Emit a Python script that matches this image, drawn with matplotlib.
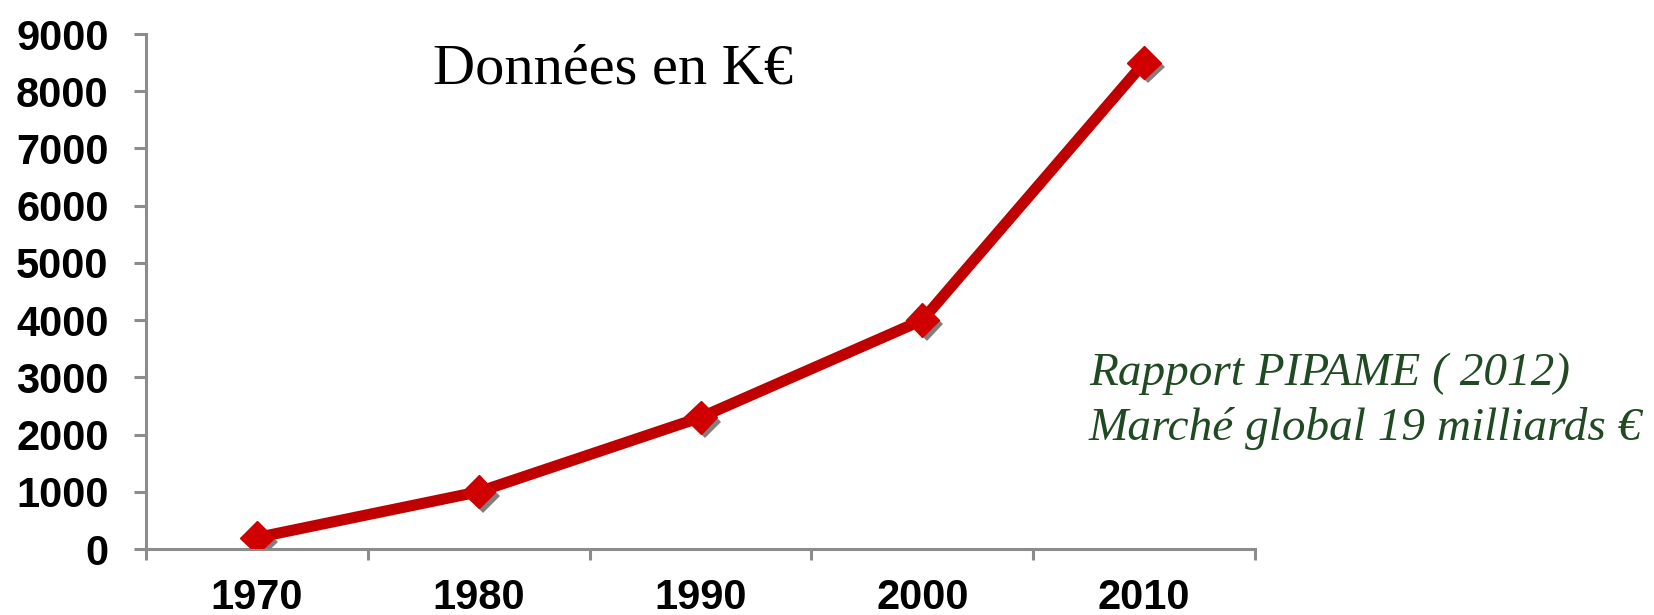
import numpy as np
import matplotlib
matplotlib.use('Agg')
import matplotlib.pyplot as plt
import matplotlib.patheffects as pe

years = ['1970', '1980', '1990', '2000', '2010']
values = [200, 1000, 2300, 4000, 8500]
yticks = [0, 1000, 2000, 3000, 4000, 5000, 6000, 7000, 8000, 9000]

fig = plt.figure(figsize=(16.54, 6.15), dpi=100)
ax = fig.add_axes([0.0883, 0.1073, 0.6705, 0.8374])

x = np.arange(len(years))
ax.plot(x, values, color='#c00000', linewidth=8, solid_capstyle='round', zorder=2)
ax.plot(x, values, linestyle='none', marker='D', markersize=17,
        markerfacecolor='#d00000', markeredgecolor='#d00000', zorder=3,
        path_effects=[pe.SimplePatchShadow(offset=(3, -3), shadow_rgbFace='#808080', alpha=1.0),
                      pe.Normal()])

ax.set_xlim(-0.5, len(years) - 0.5)
ax.set_ylim(0, 9000)

axis_grey = '#8c8c8c'
for s in ['top', 'right']:
    ax.spines[s].set_visible(False)
for s in ['left', 'bottom']:
    ax.spines[s].set_color(axis_grey)
    ax.spines[s].set_linewidth(2.2)

ax.set_yticks(yticks)
ax.set_yticklabels([str(v) for v in yticks])
ax.tick_params(axis='y', direction='out', length=9, width=2.2, color=axis_grey, pad=18)

ax.set_xticks(x)
ax.set_xticklabels(years)
ax.set_xticks(np.arange(-0.5, len(years)), minor=True)
ax.tick_params(axis='x', which='major', length=0, pad=21)
ax.tick_params(axis='x', which='minor', direction='out', length=8, width=2.2, color=axis_grey)

for lab in ax.get_xticklabels() + ax.get_yticklabels():
    lab.set_fontfamily('Liberation Sans')
    lab.set_fontweight('bold')
    lab.set_fontsize(30)
    lab.set_color('black')

fig.text(433 / 1654, 1 - 83 / 615, 'Données en K€', fontsize=42,
         family='Liberation Serif', color='black', ha='left', va='baseline')

green = '#1f4a22'
fig.text(1089 / 1654, 1 - 385 / 615, 'Rapport PIPAME ( 2012)', fontsize=34,
         family='Liberation Serif', style='italic', color=green, ha='left', va='baseline')
fig.text(1089 / 1654, 1 - 440 / 615, 'Marché global 19 milliards €', fontsize=34,
         family='Liberation Serif', style='italic', color=green, ha='left', va='baseline')

fig.savefig('out.png', dpi=100)
